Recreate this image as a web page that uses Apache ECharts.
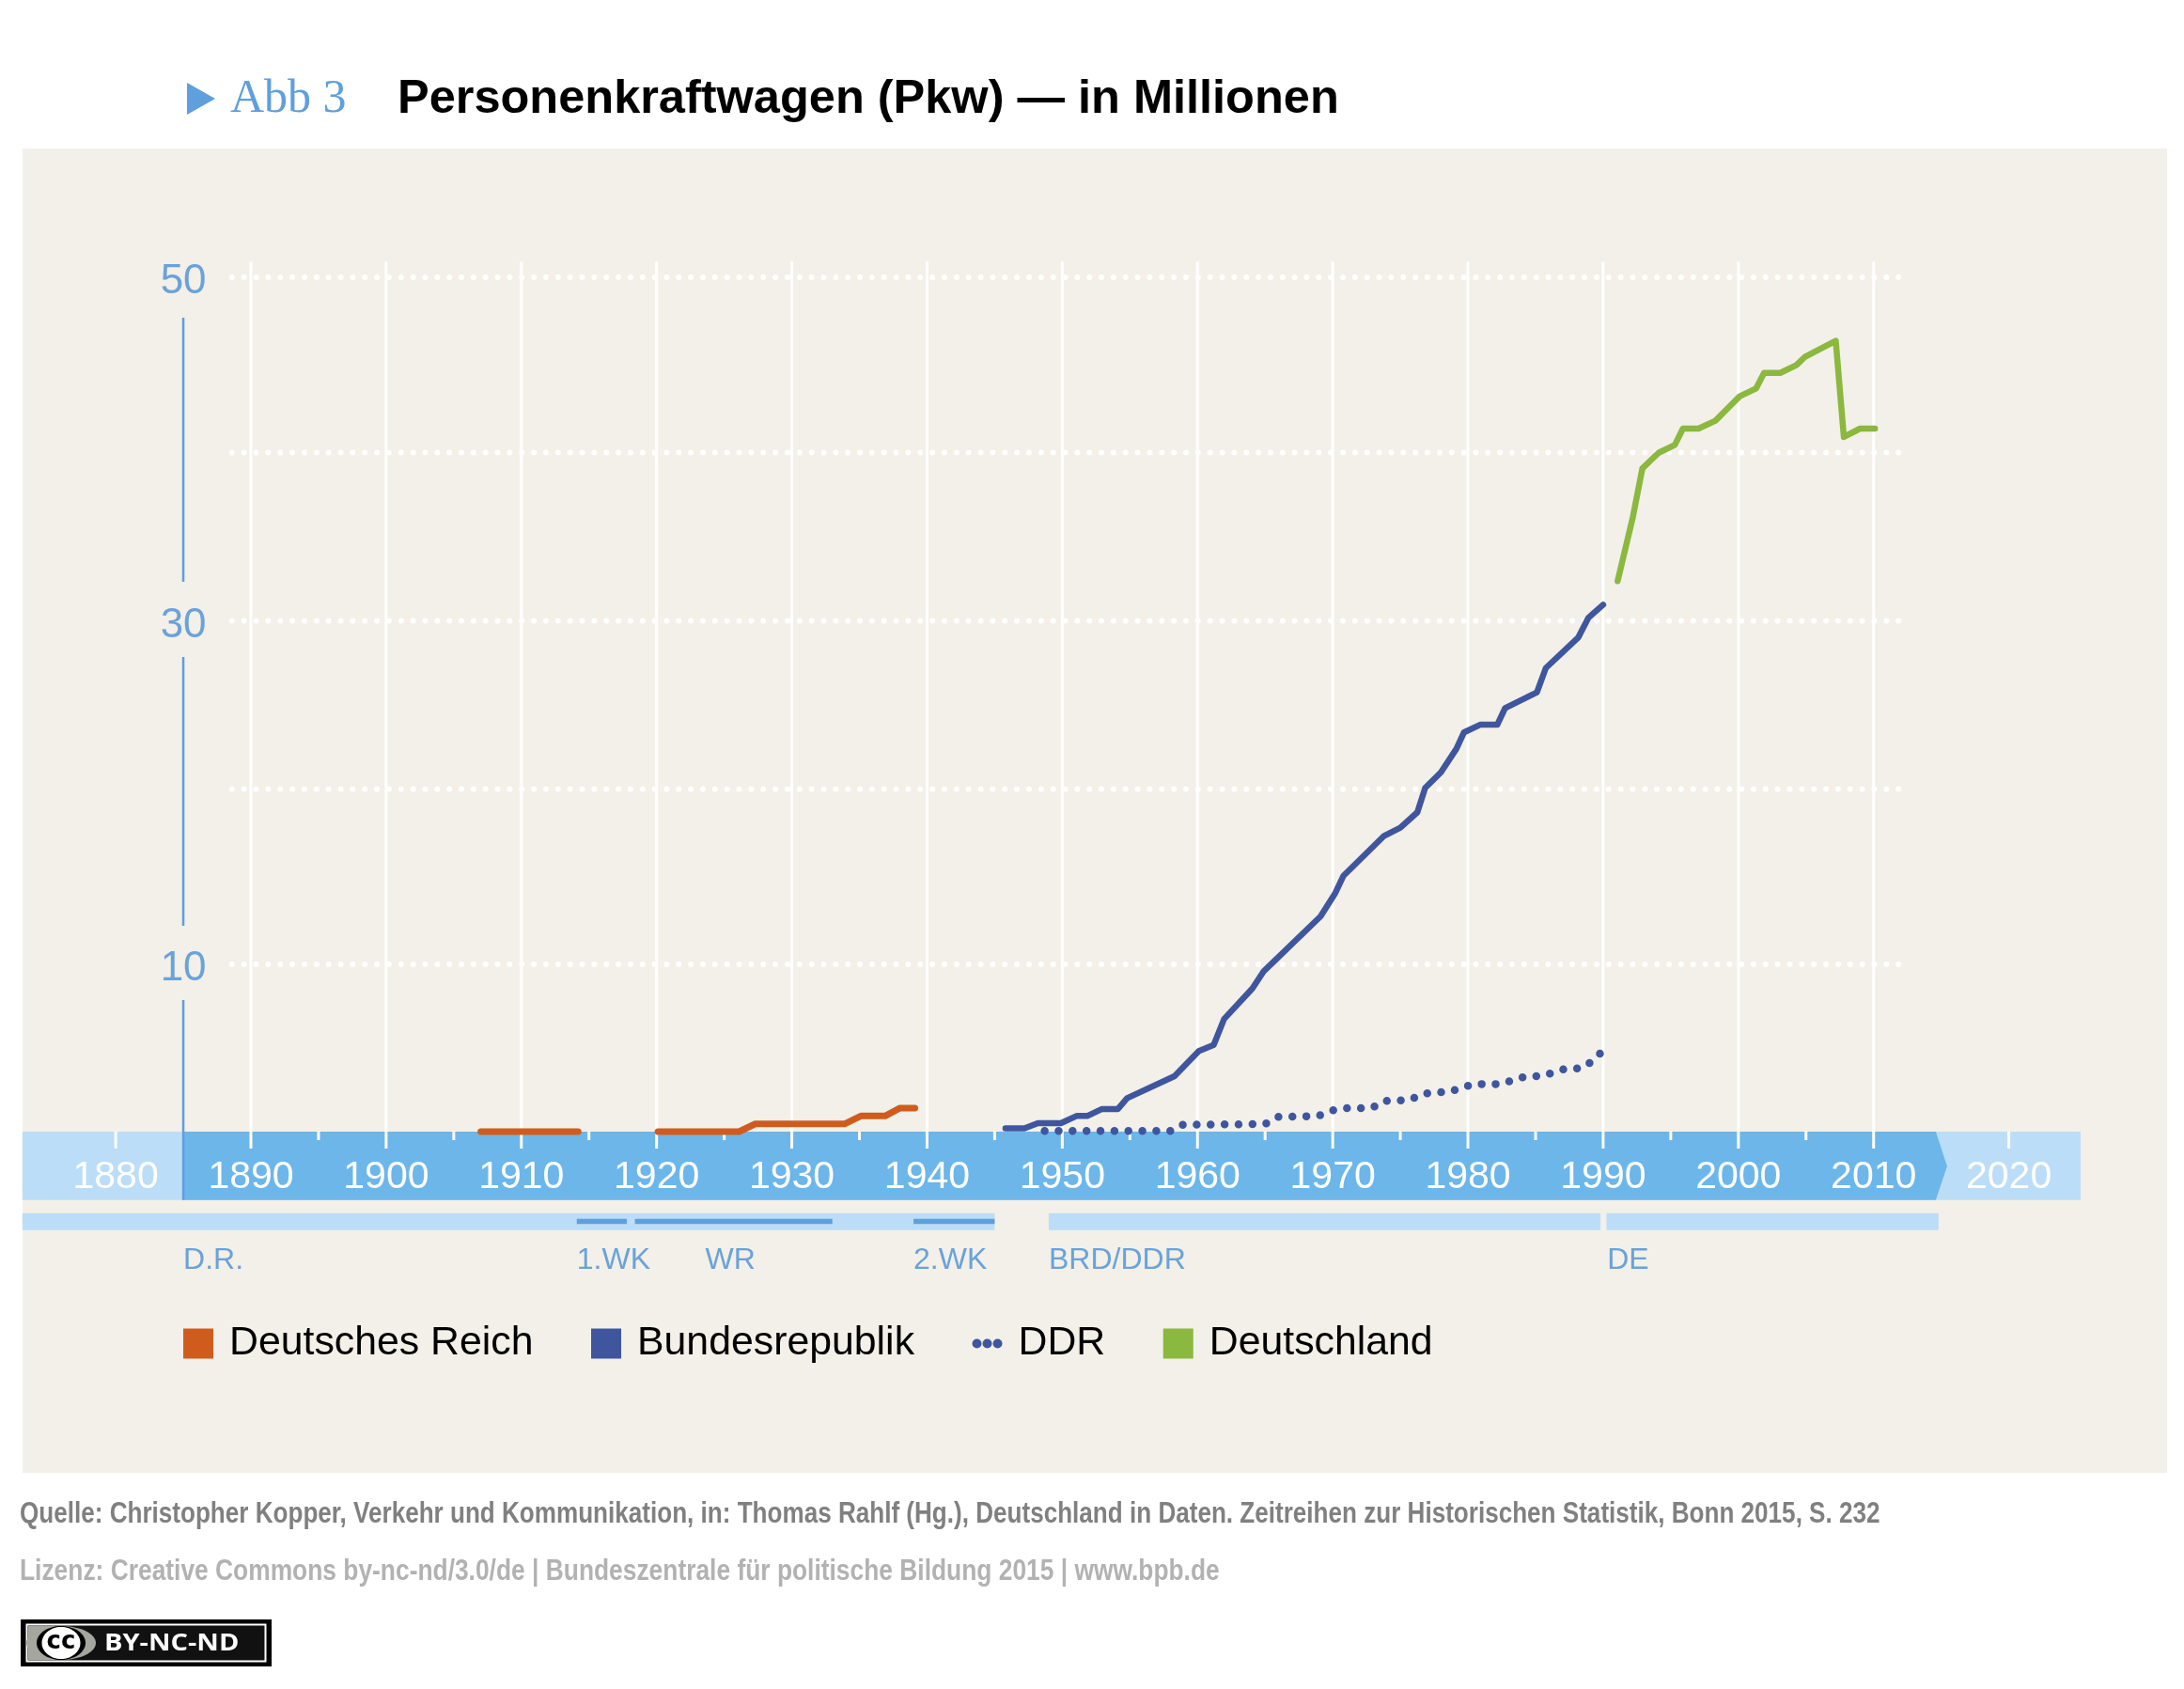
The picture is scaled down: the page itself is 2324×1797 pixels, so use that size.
<!DOCTYPE html>
<html><head><meta charset="utf-8">
<script src="https://cdn.jsdelivr.net/npm/echarts@6/dist/echarts.min.js"></script>
<style>html,body{margin:0;padding:0;background:#fff}#c{width:2324px;height:1797px}</style>
</head><body><div id="c"></div>
<script>
const titleTag = 'Abb 3';
const titleText = 'Personenkraftwagen (Pkw) — in Millionen';
const sourceText = 'Quelle: Christopher Kopper, Verkehr und Kommunikation, in: Thomas Rahlf (Hg.), Deutschland in Daten. Zeitreihen zur Historischen Statistik, Bonn 2015, S. 232';
const licenseText = 'Lizenz: Creative Commons by-nc-nd/3.0/de | Bundeszentrale für politische Bildung 2015 | www.bpb.de';
const badgeText = 'BY-NC-ND';

const reichYears = [1907,1914.2,1917,1920.1,1926.1,1927.3,1933.9,1935.1,1936.9,1938,1939.1];
const reichValues = [0.26,0.26,null,0.26,0.26,0.71,0.71,1.17,1.17,1.63,1.63];

const brdYears = [1945.8,1947.2,1948.2,1949.9,1951.05,1951.85,1952.9,1954.1,1954.8,1958.3,1960.1,1961.2,1961.97,1964.07,1964.9,1969.1,1970.2,1970.8,1973.8,1975,1976.26,1976.84,1978,1979.15,1979.7,1980.9,1982.17,1982.75,1985.1,1985.76,1988.15,1988.9,1990];
const brdValues = [0.45,0.45,0.75,0.75,1.17,1.17,1.57,1.57,2.21,3.49,4.95,5.31,6.82,8.6,9.6,12.79,14.16,15.16,17.48,17.95,18.85,20.27,21.18,22.55,23.5,23.95,23.95,24.92,25.83,27.25,29.02,30.17,30.94];

const ddrYears = [1948.7,1958,1958.9,1965,1965.9,1968.9,1969.9,1970.9,1972.9,1973.8,1975.7,1976.6,1977.6,1978.6,1979.5,1980.4,1982.4,1983.4,1984.3,1985.4,1986.4,1987.3,1988.3,1989.1,1989.9];
const ddrValues = [0.3,0.3,0.66,0.7,1.12,1.17,1.48,1.63,1.63,2.05,2.1,2.45,2.56,2.56,2.81,3.03,3.03,3.27,3.49,3.49,3.72,3.94,3.94,4.31,4.9];

const deYears = [1991.07,1992.2,1992.9,1994.1,1995.3,1995.9,1997.05,1998.3,1999.5,2000.1,2001.3,2001.9,2003.1,2004.3,2004.9,2007.2,2007.8,2009,2010.1];
const deValues = [32.31,36.05,38.87,39.78,40.24,41.19,41.19,41.65,42.6,43.07,43.52,44.43,44.43,44.89,45.35,46.3,40.7,41.19,41.19];

const yLabels = [10,30,50];
const gridLevels = [10,20.2,30,39.8,50];
const gridSpan = [1888.6,2012.2];
const gridYears = [1890,1900,1910,1920,1930,1940,1950,1960,1970,1980,1990,2000,2010];
const edgeTickYears = [1880,2020];
const fiveTickYears = [1895,1905,1915,1925,1935,1945,1955,1965,1975,1985,1995,2005];
const timeBarSpan = [1873.1,2025.3];
const darkBarSpan = [1885,2014.6];
const periodStarts = [1873.1,1949,1990.25];
const periodEnds = [1945,1989.8,2014.8];
const subStarts = [1914.1,1918.4,1939];
const subEnds = [1917.8,1933,1945];
const periodNames = ['D.R.','1.WK','WR','2.WK','BRD/DDR','DE'];
const periodLabelYears = [1885,1914.1,1923.6,1939,1949,1990.3];
const yRuleFrom = [47.65,27.89,7.92];
const yRuleTo = [32.27,12.24,-3.72];

const pair = (a,b)=>a.map((v,i)=>[v,b[i]]);
const FONT = '"Liberation Sans", Arial, sans-serif';
const C = {panel:'#F2F0E8',light:'#BBDDF8',dark:'#6CB6EA',blue:'#5F9FDB',text:'#6AA2DA',reich:'#CF5C1D',brd:'#3F569F',de:'#8BB83E'};

const deco = (name,data,z,render)=>({type:'custom',name,data,z,silent:true,clip:false,
  renderItem:(p,api)=>render(api,api.coord([api.value(0),0])[1])});
const rect=(x1,x2,y1,y2,fill)=>({type:'rect',shape:{x:x1,y:y1,width:x2-x1,height:y2-y1},style:{fill}});
const X=(api,i)=>api.coord([api.value(i),0])[0];

const series=[
 deco('timeBar',[timeBarSpan],1,(api,b)=>rect(X(api,0),X(api,1),b-4.75,b+68,C.light)),
 deco('darkBar',[darkBarSpan],1.1,(api,b)=>{const a=X(api,0),e=X(api,1);return {type:'polygon',shape:{points:[[a,b-4.75],[e,b-4.75],[e+12,b+32],[e,b+68],[a,b+68]]},style:{fill:C.dark}};}),
 deco('periods',pair(periodStarts,periodEnds),1.2,(api,b)=>rect(X(api,0),X(api,1),b+82,b+100,C.light)),
 deco('subPeriods',pair(subStarts,subEnds),1.3,(api,b)=>rect(X(api,0),X(api,1),b+88,b+93.5,C.blue)),
 deco('periodLabels',periodLabelYears.map((y,i)=>[y,i]),1.4,(api,b)=>({type:'text',x:X(api,0),y:b+132,style:{text:periodNames[api.value(1)],fill:C.text,font:'32px '+FONT,textAlign:'left',textVerticalAlign:'middle'}})),
 deco('dotGrid',gridLevels.map(v=>[gridSpan[0],gridSpan[1],v]),1.5,(api)=>{const a=api.coord([api.value(0),api.value(2)]),e=api.coord([api.value(1),api.value(2)]);return {type:'line',shape:{x1:a[0],y1:a[1],x2:e[0],y2:e[1]},style:{stroke:'#fff',lineWidth:6,lineCap:'round',lineDash:[0,12.85]}};}),
 deco('yearLines',gridYears.map(y=>[y]),1.6,(api,b)=>{const x=X(api,0);return {type:'line',shape:{x1:x,y1:api.coord([api.value(0),50.9])[1],x2:x,y2:b+13.25},style:{stroke:'#fff',lineWidth:3}};}),
 deco('edgeTicks',edgeTickYears.map(y=>[y]),1.6,(api,b)=>{const x=X(api,0);return {type:'line',shape:{x1:x,y1:b-4.75,x2:x,y2:b+13.25},style:{stroke:'#fff',lineWidth:3}};}),
 deco('fiveTicks',fiveTickYears.map(y=>[y]),1.6,(api,b)=>{const x=X(api,0);return {type:'line',shape:{x1:x,y1:b-4.75,x2:x,y2:b+4.3},style:{stroke:'#fff',lineWidth:3}};}),
 {type:'custom',name:'yRule',data:pair(yRuleFrom,yRuleTo),z:1.7,silent:true,clip:false,renderItem:(p,api)=>{const a=api.coord([1885,api.value(0)]),e=api.coord([1885,api.value(1)]);return {type:'line',shape:{x1:a[0],y1:a[1],x2:e[0],y2:e[1]},style:{stroke:C.blue,lineWidth:2.5}};}},
 {type:'line',name:'Deutsches Reich',data:pair(reichYears,reichValues),z:6,showSymbol:false,clip:false,connectNulls:false,itemStyle:{color:C.reich},lineStyle:{color:C.reich,width:7,cap:'round',join:'round'}},
 {type:'line',name:'Bundesrepublik',data:pair(brdYears,brdValues),z:6,showSymbol:false,clip:false,itemStyle:{color:C.brd},lineStyle:{color:C.brd,width:6.5,cap:'round',join:'round'}},
 {type:'line',name:'DDR',data:pair(ddrYears,ddrValues),z:6,showSymbol:false,clip:false,itemStyle:{color:C.brd},lineStyle:{color:C.brd,width:8.5,cap:'round',join:'round',type:[0,14.85]}},
 {type:'line',name:'Deutschland',data:pair(deYears,deValues),z:6,showSymbol:false,clip:false,itemStyle:{color:C.de},lineStyle:{color:C.de,width:6.5,cap:'round',join:'round'}}
];

const dots='path://M5 0a5 5 0 1 0 0 10a5 5 0 1 0 0-10zM16 0a5 5 0 1 0 0 10a5 5 0 1 0 0-10zM27 0a5 5 0 1 0 0 10a5 5 0 1 0 0-10z';
const chart=echarts.init(document.getElementById('c'),null,{renderer:'canvas'});
chart.setOption({
 animation:false,backgroundColor:'#fff',
 title:[
  {text:titleTag,left:245,top:81,padding:0,textStyle:{fontFamily:'"Liberation Serif",serif',fontWeight:'normal',fontSize:50,color:'#5F9FDB'}},
  {text:titleText,left:423,top:81,padding:0,textStyle:{fontFamily:FONT,fontWeight:'bold',fontSize:50.5,color:'#000'}}
 ],
 grid:{left:123.1,right:186.4,top:295,height:913.75,containLabel:false},
 xAxis:{type:'value',min:1880,max:2020,interval:10,z:5,axisLine:{show:false},axisTick:{show:false},splitLine:{show:false},
   axisLabel:{show:true,color:'#fff',fontFamily:FONT,fontSize:41,margin:23,showMinLabel:true,showMaxLabel:true,hideOverlap:false,formatter:v=>String(v)}},
 yAxis:{type:'value',min:0,max:50,interval:10,z:5,axisLine:{show:false},axisTick:{show:false},splitLine:{show:false},
   axisLabel:{show:true,color:C.text,fontFamily:FONT,fontSize:44,margin:-72,align:'center',verticalAlign:'top',lineHeight:10,formatter:v=>yLabels.includes(v)?String(v):''}},
 legend:{left:195,top:1408,padding:0,itemWidth:32,itemHeight:32,itemGap:61.5,selectedMode:false,
   textStyle:{fontFamily:FONT,fontSize:42.8,color:'#000',padding:[14,0,0,12]},
   data:[{name:'Deutsches Reich',icon:'rect'},{name:'Bundesrepublik',icon:'rect'},{name:'DDR',icon:dots},{name:'Deutschland',icon:'rect'}]},
 graphic:[
  {type:'rect',z:-10,shape:{x:24,y:158,width:2282,height:1409},style:{fill:C.panel}},
  {type:'polygon',shape:{points:[[199,88],[229,105],[199,122]]},style:{fill:'#5F9FDB'}},
  {type:'text',x:21,y:1611,scaleX:0.815,style:{text:sourceText,fill:'#808080',font:'bold 32px "Liberation Sans",sans-serif',textVerticalAlign:'middle'}},
  {type:'text',x:21,y:1672,scaleX:0.824,style:{text:licenseText,fill:'#B2B2B2',font:'bold 32px "Liberation Sans",sans-serif',textVerticalAlign:'middle'}},
  {type:'rect',shape:{x:22,y:1723,width:267,height:50},style:{fill:'#000'}},
  {type:'rect',shape:{x:28.5,y:1728.5,width:254,height:39},style:{fill:'#111',stroke:'#fff',lineWidth:2}},
  {type:'rect',shape:{x:30,y:1730,width:35,height:36},style:{fill:'#A5A79F'}},
  {type:'ellipse',shape:{cx:65,cy:1748,rx:37,ry:18},style:{fill:'#A5A79F'}},
  {type:'ellipse',shape:{cx:65,cy:1748,rx:26,ry:18},style:{fill:'#000'}},
  {type:'ellipse',shape:{cx:65,cy:1748,rx:20.5,ry:17},style:{fill:'#fff'}},
  {type:'text',x:65,y:1747,style:{text:'cc',fill:'#000',font:'bold 26px "DejaVu Sans",sans-serif',textAlign:'center',textVerticalAlign:'middle'}},
  {type:'text',x:111,y:1749,scaleX:1.16,style:{text:badgeText,fill:'#fff',font:'bold 25px "Open Sans",sans-serif',textVerticalAlign:'middle'}}
 ],
 series
});
</script></body></html>
